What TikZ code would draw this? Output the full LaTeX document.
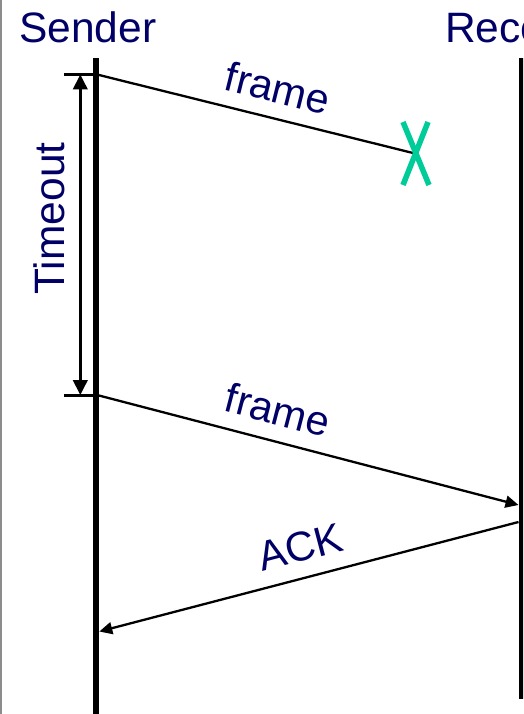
\documentclass[tikz,border=0pt]{standalone}
\usepackage{fontspec}
\setmainfont{Liberation Sans}
\usetikzlibrary{arrows.meta}
\definecolor{navy}{RGB}{0,0,102}
\definecolor{xgreen}{RGB}{0,204,153}
\definecolor{edgegray}{RGB}{140,140,140}
\begin{document}
\begin{tikzpicture}[x=1pt,y=-1pt,
  title/.style={text=navy,inner sep=0pt,font=\fontsize{42.5}{48}\selectfont},
  lbl/.style={text=navy,inner sep=0pt,font=\fontsize{41.5}{46}\selectfont},
  lifeline/.style={line width=6.5pt},
  tick/.style={line width=3pt},
  msg/.style={line width=2.3pt},
  msgarrow/.style={line width=2.3pt,-{Triangle[length=13pt,width=12pt]}},
  timearrow/.style={line width=2.7pt,{Triangle[length=15pt,width=14.5pt]}-{Triangle[length=15pt,width=14.5pt]}},
  lost/.style={line width=5.5pt,draw=xgreen}
]
\useasboundingbox (0,0) rectangle (523,714);
\clip (0,0) rectangle (523,714);
\fill[edgegray] (0,0) rectangle (1.5,714);

% titles
\node[title,anchor=base west] (sender) at (19,42.8) {Sender};
\node[title,anchor=base west] (receiver) at (445,42.8) {Receiver};

% lifelines
\coordinate (sTop) at (96,58);
\coordinate (sBot) at (96,714);
\coordinate (rTop) at (521.8,58);
\coordinate (rBot) at (521.8,699);
\draw[lifeline] (sTop) -- (sBot);
\draw[lifeline] (rTop) -- (rBot);

% ticks
\coordinate (tk1a) at (64,74.5);
\coordinate (tk1b) at (97,74.5);
\coordinate (tk2a) at (64,395);
\coordinate (tk2b) at (97,395);
\draw[tick] (tk1a) -- (tk1b);
\draw[tick] (tk2a) -- (tk2b);

% timeout
\coordinate (to1) at (80.3,74.5);
\coordinate (to2) at (80.3,395);
\draw[timearrow] (to1) -- (to2);
\node[title,rotate=90] (timeout) at (49.5,218.5) {Timeout};

% first frame (lost)
\coordinate (f1s) at (97,74.5);
\coordinate (f1e) at (413,153);
\draw[msg] (f1s) -- (f1e);
\node[lbl,rotate=-14] (frame1) at (278,88) {frame};
\coordinate (xa) at (403,122);
\coordinate (xb) at (429,185);
\coordinate (xc) at (428,122);
\coordinate (xd) at (403,185);
\draw[lost] (xa) -- (xb);
\draw[lost] (xc) -- (xd);

% second frame
\coordinate (f2s) at (97,395);
\coordinate (f2e) at (518.5,505);
\draw[msgarrow] (f2s) -- (f2e);
\node[lbl,rotate=-14.6] (frame2) at (278,410) {frame};

% ACK
\coordinate (as) at (518.5,522);
\coordinate (ae) at (99.3,631.5);
\draw[msgarrow] (as) -- (ae);
\node[lbl,rotate=14.7] (ack) at (300,547) {ACK};
\end{tikzpicture}
\end{document}
